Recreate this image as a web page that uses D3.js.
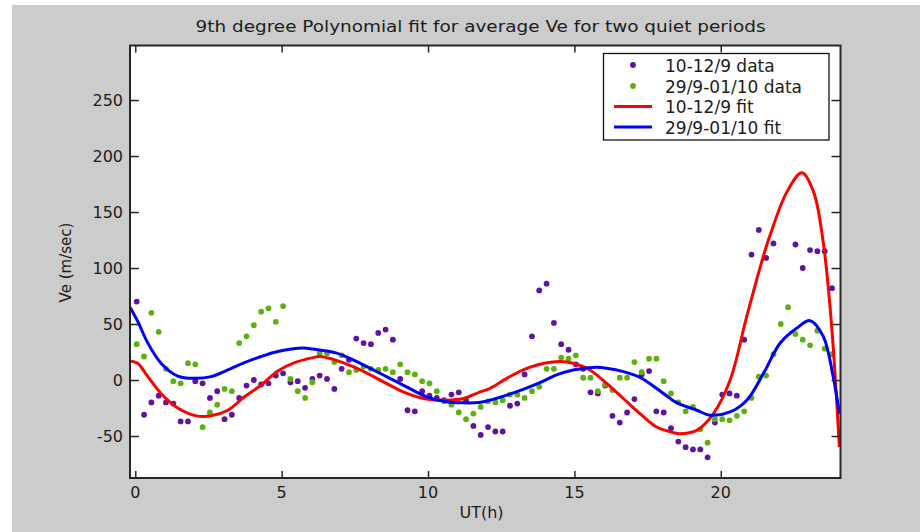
<!DOCTYPE html>
<html>
<head>
<meta charset="utf-8">
<script src="https://cdn.jsdelivr.net/npm/d3@7"></script>
<style>
    body { margin: 0; background: #fff; }
    svg { display: block; }
    text { font-family: "DejaVu Sans", sans-serif; fill: #1c1c1c; }
</style>
</head>
<body>
<svg id="chart" width="920" height="532"></svg>
<script>
// sample times (UT hours), 15 min averages
var hours = [0.05, 0.3, 0.55, 0.8, 1.05, 1.3, 1.55, 1.8, 2.05, 2.3, 2.55, 2.8,
    3.05, 3.3, 3.55, 3.8, 4.05, 4.3, 4.55, 4.8, 5.05, 5.3, 5.55, 5.8,
    6.05, 6.3, 6.55, 6.8, 7.05, 7.3, 7.55, 7.8, 8.05, 8.3, 8.55, 8.8,
    9.05, 9.3, 9.55, 9.8, 10.05, 10.3, 10.55, 10.8, 11.05, 11.3, 11.55, 11.8,
    12.05, 12.3, 12.55, 12.8, 13.05, 13.3, 13.55, 13.8, 14.05, 14.3, 14.55, 14.8,
    15.05, 15.3, 15.55, 15.8, 16.05, 16.3, 16.55, 16.8, 17.05, 17.3, 17.55, 17.8,
    18.05, 18.3, 18.55, 18.8, 19.05, 19.3, 19.55, 19.8, 20.05, 20.3, 20.55, 20.8,
    21.05, 21.3, 21.55, 21.8, 22.05, 22.3, 22.55, 22.8, 23.05, 23.3, 23.55, 23.8];

// 10-12/9 average Ve (null = no sample)
var sepData = [70, -31, -20, -14, -20, -21, -37, -37, -1, -3,
    -16, -10, -35, -31, -16, -5, 0, -4, -3, 4,
    6, -2, -1, -7, 1, 4, 1, -8, 10, 18,
    37, 33, 32, 42, 45, 36, 1, -27, -28, -10,
    -14, -16, -18, -13, -11, -18, -41, -49, -42, -46,
    -46, -23, -21, 5, 39, 80, 86, 51, 32, 27,
    14, 10, -11, -12, -5, -32, -38, -29, -17, 5,
    8, -28, -29, -43, -55, -60, -62, -62, -69, -38,
    -13, -12, -14, 36, 112, 134, 109, 122, null, null,
    121, 100, 116, 115, 115, 82];

// 29/9-01/10 average Ve
var octData = [32, 21, 60, 43, 10, -1, -3, 15, 14, -42,
    -29, -22, -8, -10, 33, 39, 49, 61, 64, 52,
    66, 1, -10, -16, -2, 24, 24, 16, 22, 7,
    9, 12, 10, 9, 10, 7, 14, 7, 5, -1,
    -3, -10, -19, -22, -29, -35, -30, -24, -19, -20,
    -18, -13, -13, -16, -10, -6, 10, 10, 20, 19,
    22, 2, 2, -10, -4, -9, 2, 2, 16, 7,
    19, 19, -1, -12, -20, -28, -24, -44, -56, -35,
    -35, -36, -32, -28, -16, 3, 4, 23, 50, 65,
    41, 36, 31, 44, 28, 23];

// fitted curves
var sepFitHours = [-0.18, 0.08, 0.43, 0.88, 1.45, 2.08, 2.59, 3.16, 3.73, 4.3, 4.87, 5.44,
    6.07, 6.3, 7.44, 8.58, 9.15, 9.95, 10.63, 11.2, 11.74, 12.12, 12.69, 13.25,
    13.82, 14.51, 14.96, 15.53, 16.1, 16.67, 17.24, 17.81, 18.38, 18.6, 19.18, 19.75,
    20.32, 20.89, 21.46, 21.68, 22.26, 22.77, 23.17, 23.5, 23.74, 23.91, 24.05];
var sepFitValues = [17, 15, 3, -12, -25, -32, -32, -27, -15, -4.5, 8, 15.5,
    20, 21, 12, -3, -10.5, -17, -18, -16.5, -11, -7.5, 1.5, 9,
    14, 16.5, 15, 9, -3, -16.5, -30, -42, -47, -48, -45, -30,
    0, 57, 111, 129, 168, 185, 168, 123, 63, 3, -60];

var octFitHours = [-0.18, 0.09, 0.43, 0.88, 1.45, 2.02, 2.59, 3.16, 3.73, 4.3, 4.87, 5.74,
    6.07, 6.88, 7.44, 8.58, 9.15, 9.95, 10.63, 11.2, 11.74, 12.12, 12.69, 13.25,
    13.82, 14.39, 14.96, 15.76, 16.1, 16.67, 17.24, 17.81, 18.38, 18.6, 19.18, 19.63,
    20.32, 20.89, 21.46, 22.03, 22.6, 23.05, 23.5, 23.84, 24.05];
var octFitValues = [65, 52, 33, 15, 3.5, 1.5, 3, 9, 15.5, 21, 25.5, 28.5,
    27.6, 24, 18, 3, -4.5, -15, -19.5, -20.4, -20, -18, -13.5, -8.4,
    -2.4, 4.5, 9, 11.4, 10.5, 7.5, 2.4, -7.5, -18.5, -21.6, -27, -31.4,
    -28.5, -18, 6, 33, 46.4, 53, 39, 3, -30];

var xTicks = [0, 5, 10, 15, 20];
var yTicks = [-50, 0, 50, 100, 150, 200, 250];

var legendLabels = ['10-12/9 data', '29/9-01/10 data', '10-12/9 fit', '29/9-01/10 fit'];

var colors = {
    sep: '#6011a6',
    oct: '#5cb20c',
    sepFit: '#ff0000',
    octFit: '#0000ff'
};

// plot box
var plot = { left: 130, right: 840.5, top: 45.5, bottom: 478 };

var x = d3.scaleLinear().domain([-0.18, 24.09]).range([plot.left, plot.right]);
var y = d3.scaleLinear().domain([-87.5, 298.7]).range([plot.bottom, plot.top]);

var svg = d3.select('#chart');

// figure background
svg.append('rect')
    .attr('x', 12).attr('y', 5)
    .attr('width', 908).attr('height', 527)
    .attr('fill', '#cccccc');

svg.append('rect')
    .attr('x', plot.left).attr('y', plot.top)
    .attr('width', plot.right - plot.left).attr('height', plot.bottom - plot.top)
    .attr('fill', '#fff');

svg.append('clipPath').attr('id', 'clip')
    .append('rect')
    .attr('x', plot.left).attr('y', plot.top)
    .attr('width', plot.right - plot.left).attr('height', plot.bottom - plot.top);

var inner = svg.append('g').attr('clip-path', 'url(#clip)');

function drawDots(values, color) {
    var pts = values
        .map(function (v, i) { return [hours[i], v]; })
        .filter(function (p) { return p[1] !== null; });
    inner.append('g')
        .selectAll('circle')
        .data(pts)
        .enter()
        .append('circle')
        .attr('cx', function (d) { return x(d[0]); })
        .attr('cy', function (d) { return y(d[1]); })
        .attr('r', 2.9)
        .attr('fill', color);
}

function drawFit(hs, vs, color) {
    var line = d3.line()
        .x(function (d, i) { return x(hs[i]); })
        .y(function (d) { return y(d); })
        .curve(d3.curveCatmullRom);
    inner.append('path')
        .attr('d', line(vs))
        .attr('fill', 'none')
        .attr('stroke', color)
        .attr('stroke-width', 3)
        .attr('stroke-linejoin', 'round');
}

drawDots(sepData, colors.sep);
drawDots(octData, colors.oct);
drawFit(sepFitHours, sepFitValues, colors.sepFit);
drawFit(octFitHours, octFitValues, colors.octFit);

// axes: ticks pointing inwards on all four sides
var axisColor = '#262626';

svg.append('g')
    .attr('transform', 'translate(0,' + plot.bottom + ')')
    .call(d3.axisTop(x).tickValues(xTicks).tickSize(7).tickFormat(''))
    .call(function (g) { g.select('.domain').remove(); });
svg.append('g')
    .attr('transform', 'translate(0,' + plot.top + ')')
    .call(d3.axisBottom(x).tickValues(xTicks).tickSize(7).tickFormat(''))
    .call(function (g) { g.select('.domain').remove(); });
svg.append('g')
    .attr('transform', 'translate(' + plot.left + ',0)')
    .call(d3.axisRight(y).tickValues(yTicks).tickSize(9).tickFormat(''))
    .call(function (g) { g.select('.domain').remove(); });
svg.append('g')
    .attr('transform', 'translate(' + plot.right + ',0)')
    .call(d3.axisLeft(y).tickValues(yTicks).tickSize(9).tickFormat(''))
    .call(function (g) { g.select('.domain').remove(); });

svg.selectAll('.tick line').attr('stroke', axisColor).attr('stroke-width', 1.5);

svg.append('rect')
    .attr('x', plot.left).attr('y', plot.top)
    .attr('width', plot.right - plot.left).attr('height', plot.bottom - plot.top)
    .attr('fill', 'none')
    .attr('stroke', axisColor)
    .attr('stroke-width', 2);

// tick labels
svg.append('g').selectAll('text')
    .data(xTicks)
    .enter()
    .append('text')
    .attr('x', function (d) { return x(d); })
    .attr('y', 498)
    .attr('text-anchor', 'middle')
    .attr('font-size', 16)
    .text(function (d) { return d; });

svg.append('g').selectAll('text')
    .data(yTicks)
    .enter()
    .append('text')
    .attr('x', 123)
    .attr('y', function (d) { return y(d) + 6; })
    .attr('text-anchor', 'end')
    .attr('font-size', 16)
    .text(function (d) { return d; });

// titles
svg.append('text')
    .attr('x', 480.5).attr('y', 32)
    .attr('text-anchor', 'middle')
    .attr('font-size', 16)
    .attr('textLength', 570)
    .attr('lengthAdjust', 'spacingAndGlyphs')
    .text('9th degree Polynomial fit for average Ve for two quiet periods');

svg.append('text')
    .attr('x', 481.5).attr('y', 518)
    .attr('text-anchor', 'middle')
    .attr('font-size', 16)
    .text('UT(h)');

svg.append('text')
    .attr('transform', 'translate(70.5,262.5) rotate(-90)')
    .attr('text-anchor', 'middle')
    .attr('font-size', 15)
    .text('Ve (m/sec)');

// legend
var legend = svg.append('g');
legend.append('rect')
    .attr('x', 603.5).attr('y', 53.5)
    .attr('width', 225.5).attr('height', 86.5)
    .attr('fill', '#fff')
    .attr('stroke', '#111')
    .attr('stroke-width', 1.3);

var rowY = [65, 86, 106.5, 127];
var legendColors = [colors.sep, colors.oct, colors.sepFit, colors.octFit];

legendLabels.forEach(function (label, i) {
    if (i < 2) {
        legend.append('circle')
            .attr('cx', 633).attr('cy', rowY[i])
            .attr('r', 2.9)
            .attr('fill', legendColors[i]);
    } else {
        legend.append('line')
            .attr('x1', 614).attr('x2', 652)
            .attr('y1', rowY[i]).attr('y2', rowY[i])
            .attr('stroke', legendColors[i])
            .attr('stroke-width', 3);
    }
    legend.append('text')
        .attr('x', 665)
        .attr('y', rowY[i] + 6.5)
        .attr('font-size', 17)
        .text(label);
});
</script>
</body>
</html>
